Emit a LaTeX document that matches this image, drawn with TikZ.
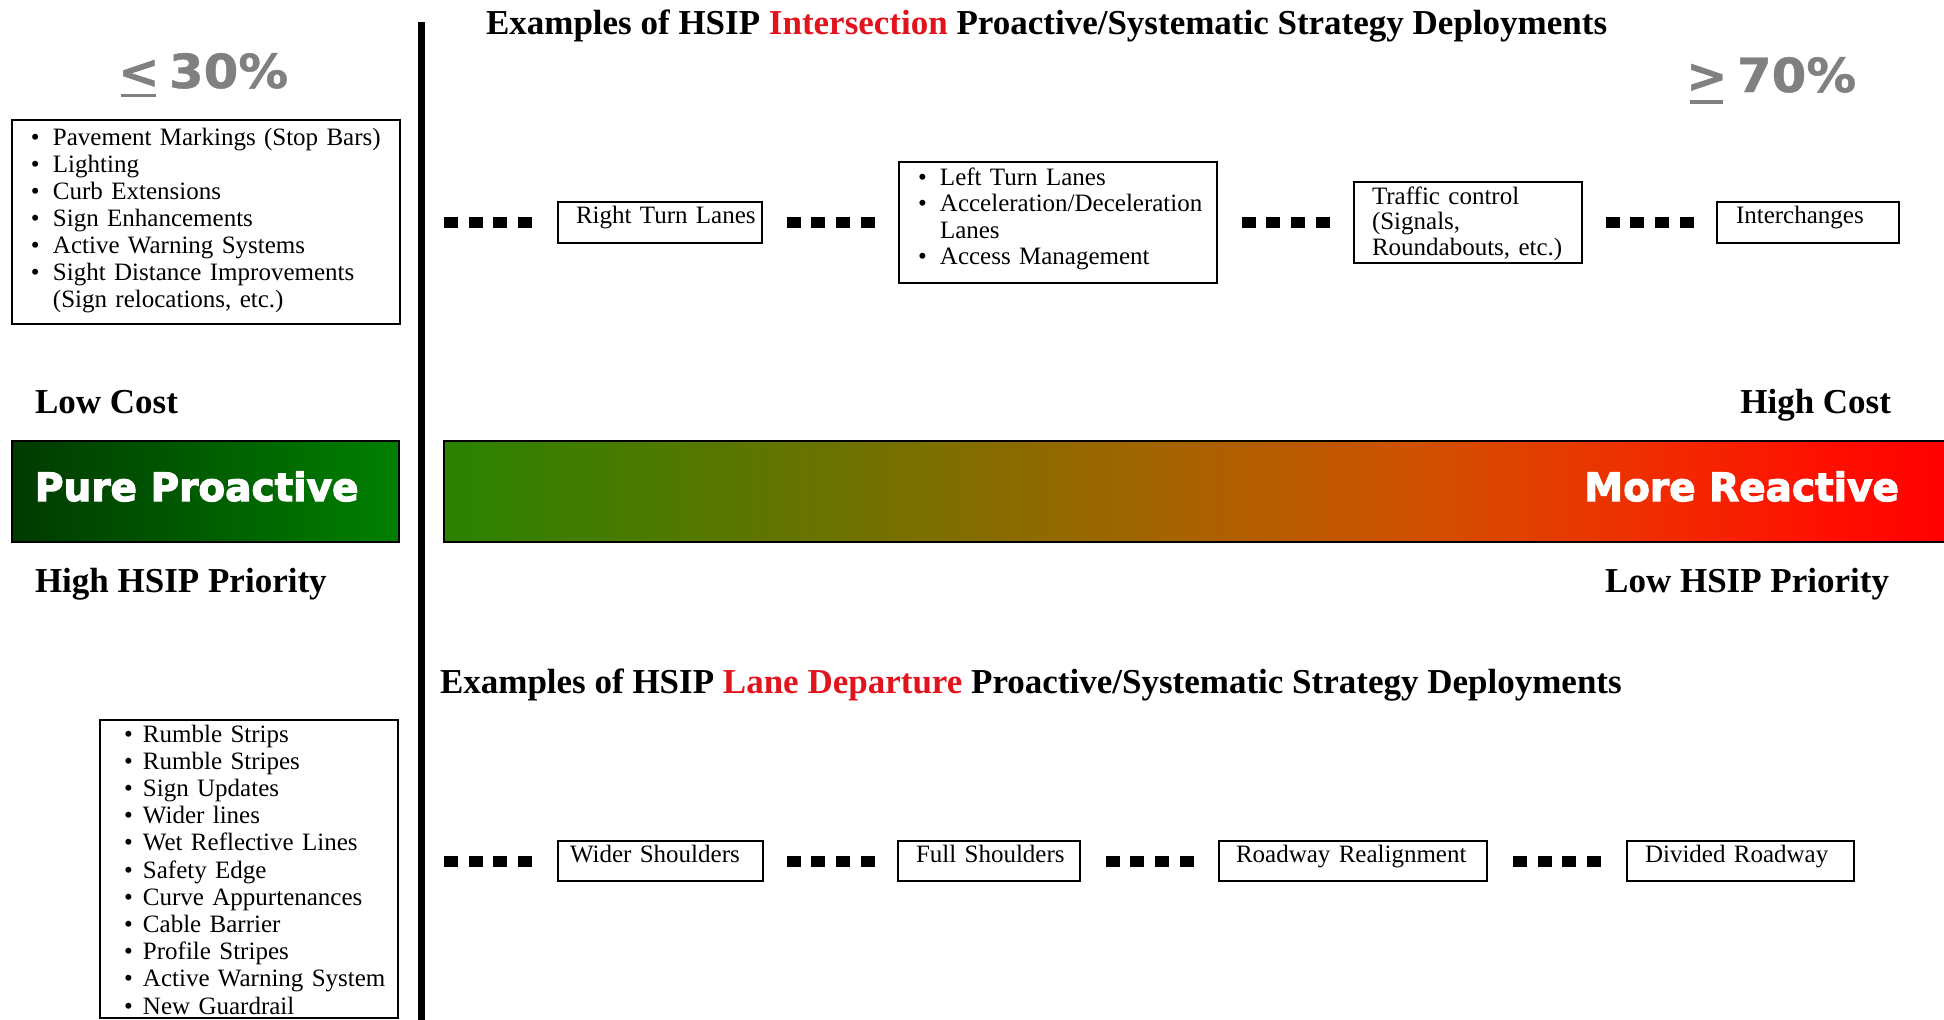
\documentclass[tikz,border=0pt]{standalone}
\usepackage{fontspec}
\setmainfont{Liberation Serif}
\newfontfamily\heavypct{DejaVu Sans Bold}[FakeStretch=1.06, FakeBold=1]
\newfontfamily\heavyband{DejaVu Sans Bold}[FakeBold=3]
\definecolor{pctgray}{RGB}{128,128,128}
\definecolor{hsipred}{RGB}{225,20,30}
\definecolor{ppdark}{RGB}{0,58,0}
\definecolor{pplight}{RGB}{0,128,0}
\definecolor{rA}{RGB}{42,130,0}
\definecolor{rB}{RGB}{118,112,0}
\definecolor{rC}{RGB}{170,98,0}
\definecolor{rD}{RGB}{210,80,0}
\definecolor{rE}{RGB}{240,45,0}
\definecolor{rF}{RGB}{255,15,0}
\definecolor{rG}{RGB}{255,0,0}
\pgfdeclarehorizontalshading{reactive}{100bp}{color(0bp)=(rA); color(25bp)=(rA); color(40bp)=(rB); color(50bp)=(rC); color(57.5bp)=(rD); color(65bp)=(rE); color(71bp)=(rF); color(75bp)=(rG); color(100bp)=(rG)}
\newcommand\lpad[1]{\leftskip=#1\relax}
\newcommand\bl[2][22pt]{\makebox[#1][l]{\textbullet}#2}
\tikzset{
  every node/.style={inner sep=0pt, outer sep=0pt},
  lbl/.style={font=\fontsize{35}{40}\selectfont\bfseries},
  pct/.style={font=\heavypct\fontsize{47}{50}\selectfont, text=pctgray},
  band/.style={font=\heavyband\fontsize{39}{44}\selectfont, text=white},
  txtbox/.style={draw, line width=1.6pt, anchor=north west, align=left, font=\fontsize{25}{27}\selectfont},
  rowone/.style={txtbox, text height=21pt, text depth=20pt},
  rowtwo/.style={txtbox, text height=21pt, text depth=19pt},
  sqline/.style={line width=11pt, dash pattern=on 14pt off 10.7pt},
}
\begin{document}
\begin{tikzpicture}[x=1pt,y=-1pt]
\useasboundingbox (0,0) rectangle (1944,1020);
% separator
\draw[line width=7pt] (421.5,22) -- (421.5,1022);
% titles
\node[lbl, anchor=base west] (title1) at (486,34) {Examples of HSIP \textcolor{hsipred}{Intersection} Proactive/Systematic Strategy Deployments};
\node[lbl, anchor=base west] (title2) at (440,693) {Examples of HSIP \textcolor{hsipred}{Lane Departure} Proactive/Systematic Strategy Deployments};
% percentages
\node[pct, anchor=base west] (ltsym) at (118,88) {<};
\node[pct, anchor=base west] (p30) at (169,88) {30\%};
\draw[pctgray, line width=3.5pt] (121,95.5) -- (156,95.5);
\node[pct, anchor=base west] (gtsym) at (1686,92) {>};
\node[pct, anchor=base west] (p70) at (1737,92) {70\%};
\draw[pctgray, line width=3.5pt] (1690,102) -- (1723,102);
% top-left list
\node[txtbox, text width=388pt, text height=25pt, text depth=179pt] (tl) at (12,120)
 {\lpad{19pt}\bl{Pavement Markings (Stop Bars)}\\ \bl{Lighting}\\ \bl{Curb Extensions}\\ \bl{Sign Enhancements}\\ \bl{Active Warning Systems}\\ \bl{Sight Distance Improvements}\\ \hspace*{22pt}(Sign relocations, etc.)\par};
% bottom-left list
\node[txtbox, font=\fontsize{25}{27.2}\selectfont, text width=298pt, text height=22pt, text depth=276pt] (bl) at (100,720)
 {\lpad{24pt}\bl[19pt]{Rumble Strips}\\ \bl[19pt]{Rumble Stripes}\\ \bl[19pt]{Sign Updates}\\ \bl[19pt]{Wider lines}\\ \bl[19pt]{Wet Reflective Lines}\\ \bl[19pt]{Safety Edge}\\ \bl[19pt]{Curve Appurtenances}\\ \bl[19pt]{Cable Barrier}\\ \bl[19pt]{Profile Stripes}\\ \bl[19pt]{Active Warning System}\\ \bl[19pt]{New Guardrail}\par};
% row 1
\node[rowone, text width=204pt] (rtl) at (558,202) {\lpad{18pt}Right Turn Lanes\par};
\node[txtbox, font=\fontsize{25}{26.5}\selectfont, text width=318pt, text height=23pt, text depth=98pt] (mid) at (899,162)
 {\lpad{19pt}\bl{Left Turn Lanes}\\ \bl{Acceleration/Deceleration}\\ \hspace*{22pt}Lanes\\ \bl{Access Management}\par};
\node[txtbox, font=\fontsize{25}{25.5}\selectfont, text width=228pt, text height=22pt, text depth=59pt] (trf) at (1354,182)
 {\lpad{18pt}Traffic control\\ (Signals,\\ Roundabouts, etc.)\par};
\node[rowone, text width=182pt] (ich) at (1717,202) {\lpad{19pt}Interchanges\par};
\coordinate (s1) at (444,222.5);
\draw[sqline, shorten >=25pt] (s1) -- (rtl.west);
\draw[sqline, shorten <=24.5pt, shorten >=24.5pt] (rtl.east) -- (mid.west);
\draw[sqline, shorten <=24.5pt, shorten >=24.5pt] (mid.east) -- (trf.west);
\draw[sqline, shorten <=23.5pt, shorten >=23.5pt] (trf.east) -- (ich.west);
% cost labels
\node[lbl, anchor=base west] (lowcost) at (35,413) {Low Cost};
\node[lbl, anchor=base east] (highcost) at (1891,413) {High Cost};
% bands
\node[draw, line width=1.5pt, left color=ppdark, right color=pplight, minimum width=387pt, minimum height=101pt, anchor=north west] (ppbox) at (12,441) {};
\node[band, anchor=base west] (pptext) at (35,501) {Pure Proactive};
\node[draw, line width=1.5pt, shade, shading=reactive, minimum width=1506pt, minimum height=101pt, anchor=north west] (bar) at (444,441) {};
\node[band, anchor=base east] (mrtext) at (1899,501) {More Reactive};
% priority labels
\node[lbl, anchor=base west] (highpri) at (35,592) {High HSIP Priority};
\node[lbl, anchor=base east] (lowpri) at (1889,592) {Low HSIP Priority};
% row 2
\node[rowtwo, text width=205pt] (wsh) at (558,841) {\lpad{12pt}Wider Shoulders\par};
\node[rowtwo, text width=182pt] (fsh) at (898,841) {\lpad{18pt}Full Shoulders\par};
\node[rowtwo, text width=268pt] (rre) at (1219,841) {\lpad{17pt}Roadway Realignment\par};
\node[rowtwo, text width=227pt] (dro) at (1627,841) {\lpad{18pt}Divided Roadway\par};
\coordinate (s2) at (444,861);
\draw[sqline, shorten >=26pt] (s2) -- (wsh.west);
\draw[sqline, shorten <=23.5pt, shorten >=23.5pt] (wsh.east) -- (fsh.west);
\draw[sqline, shorten <=25.5pt, shorten >=25.5pt] (fsh.east) -- (rre.west);
\draw[sqline, shorten <=26pt, shorten >=26pt] (rre.east) -- (dro.west);
\end{tikzpicture}
\end{document}
